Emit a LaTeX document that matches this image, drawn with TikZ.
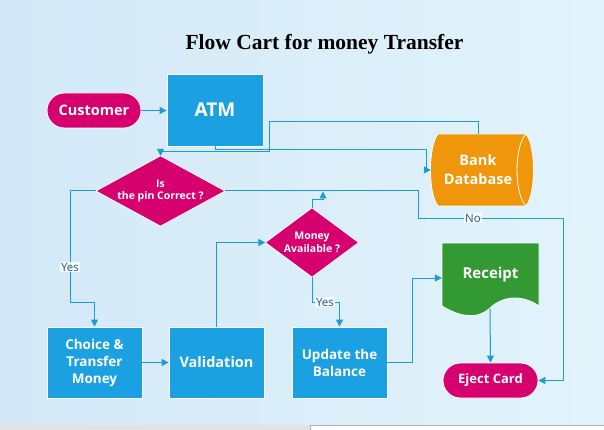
\documentclass[tikz,border=0pt]{standalone}
\usepackage{fontspec}
\setmainfont{Liberation Serif}
\newfontfamily\uifont{Open Sans}
\usetikzlibrary{arrows.meta,shapes.geometric}
\definecolor{bgA}{HTML}{D3E9F7}
\definecolor{bgB}{HTML}{E2F3FB}
\definecolor{mag}{HTML}{D6006F}
\definecolor{boxblue}{HTML}{1BA1E2}
\definecolor{dborange}{HTML}{F0960A}
\definecolor{rgreen}{HTML}{339933}
\definecolor{conncol}{HTML}{1E9AD6}
\definecolor{lblcol}{HTML}{1F5A8A}
\tikzset{
  base/.style={draw=white, line width=0.8pt, text=white, align=center, inner sep=0pt, font=\uifont\bfseries},
  pill/.style={base, fill=mag, rounded corners=17.5pt, minimum height=35pt},
  procbox/.style={base, fill=boxblue, minimum width=95pt, minimum height=71pt},
  ghost/.style={inner sep=0pt, text=white, align=center, font=\uifont\bfseries},
  shapeline/.style={draw=white, line width=0.8pt},
  conn/.style={draw=conncol, line width=1pt, -{Triangle[length=7pt,width=7pt]}},
  lbl/.style={fill=white, fill opacity=0.85, text opacity=1, text=lblcol, inner sep=1pt, font=\uifont\fontsize{11.5}{12}\selectfont}
}
\begin{document}
\begin{tikzpicture}[x=1pt,y=-1pt]
\useasboundingbox (0,0) rectangle (604,430);
\shade[left color=bgA, right color=bgB] (0,0) rectangle (604,430);
\fill[gray!22] (0,425) rectangle (310,430);
\fill[white] (310,425) rectangle (604,430);
\draw[gray!60, line width=1pt] (310,430) -- (310,425) -- (604,425);

\node[anchor=base, font=\fontsize{21.5}{24}\selectfont\bfseries] (title) at (324.5,49.5) {Flow Cart for money Transfer};

% ghost nodes carrying the text of path-drawn shapes
\node[ghost, minimum width=94pt, minimum height=72pt, font=\uifont\bfseries\fontsize{14.5}{19}\selectfont] (db) at (478,170) {Bank\\Database};
\node[ghost, minimum width=129pt, minimum height=70pt, font=\uifont\bfseries\fontsize{10.5}{12.5}\selectfont] (d1) at (160.5,191) {Is\\the pin Correct ?};
\node[ghost, minimum width=93pt, minimum height=69pt, font=\uifont\bfseries\fontsize{10.5}{13}\selectfont] (money) at (312,242.5) {Money\\Available ?};
\node[ghost, minimum width=97pt, minimum height=70pt, font=\uifont\bfseries\fontsize{15}{18}\selectfont] (rc) at (490.5,278) {\raisebox{11pt}{Receipt}};
\coordinate (rcb) at (490,308.5);
\coordinate (mt) at (323,191.5);

% shapes drawn by path (behind their text)
\draw[shapeline, fill=dborange] (438,134) -- (526,134) .. controls (536,146) and (536,194) .. (526,206) -- (438,206) .. controls (428,194) and (428,146) .. (438,134) -- cycle;
\draw[shapeline] (526,134) .. controls (514,146) and (514,194) .. (526,206);
\draw[shapeline, fill=rgreen] (442,243) -- (539,243) -- (539,306) .. controls (525,296) and (505,294) .. (490,308) .. controls (475,322) and (455,314) .. (442,306) -- cycle;
\draw[shapeline, fill=mag] (d1.north) -- (d1.east) -- (d1.south) -- (d1.west) -- cycle;
\draw[shapeline, fill=mag] (money.north) -- (money.east) -- (money.south) -- (money.west) -- cycle;
% re-set the text on top
\node[ghost, font=\uifont\bfseries\fontsize{14.5}{19}\selectfont] at (db) {Bank\\Database};
\node[ghost, font=\uifont\bfseries\fontsize{10.5}{12.5}\selectfont] at (d1) {Is\\the pin Correct ?};
\node[ghost, font=\uifont\bfseries\fontsize{10.5}{13}\selectfont] at (money) {Money\\Available ?};
\node[ghost, font=\uifont\bfseries\fontsize{15}{18}\selectfont] at (rc) {\raisebox{11pt}{Receipt}};

% nodes
\node[pill, minimum width=94pt, font=\uifont\bfseries\fontsize{14.5}{16}\selectfont] (cust) at (94,110.5) {Customer};
\node[procbox, minimum width=96pt, minimum height=72pt, font=\uifont\bfseries\fontsize{19}{20}\selectfont] (atm) at (215,110) {ATM};
\node[procbox, font=\uifont\bfseries\fontsize{13.5}{17}\selectfont] (choice) at (94.5,362.5) {Choice \&\\Transfer\\Money};
\node[procbox, font=\uifont\bfseries\fontsize{14.5}{17}\selectfont] (val) at (216.5,362.5) {Validation};
\node[procbox, font=\uifont\bfseries\fontsize{13.5}{17}\selectfont] (upd) at (339.5,362.5) {Update the\\Balance};
\node[pill, minimum width=95pt, font=\uifont\bfseries\fontsize{13}{16}\selectfont] (ej) at (490.5,380.5) {Eject Card};

% connectors
\draw[conn] (cust.east) -- (atm.west |- cust.east);
\draw[conn] (atm.south) -- ++(0,3) -| ([xshift=-4pt]db.west) -- (db.west);
\draw[conn] (db.north) -- ++(0,-12) -| (269,152) -| (d1.north);
\draw[conn] (d1.west) -| (70,302) -| (choice.north);
\draw[conn] (choice.east) -- (val.west);
\draw[conn] (val.north) |- (money.west);
\draw[conn] (money.north) -- ++(0,-8) -| (mt);
\draw[conn] (d1.east) -| (418,218) -| (563,380.5) -- (ej.east);
\draw[conn] (money.south) -- ++(0,25) -| (upd.north);
\draw[conn] (upd.east) -- ++(25,0) |- (rc.west);
\draw[conn] (rcb) -- (ej.north);

% labels
\node[lbl] (yes1) at (70,267) {Yes};
\node[lbl] (yes2) at (325,302) {Yes};
\node[lbl] (no1) at (473,218) {No};
\end{tikzpicture}
\end{document}
